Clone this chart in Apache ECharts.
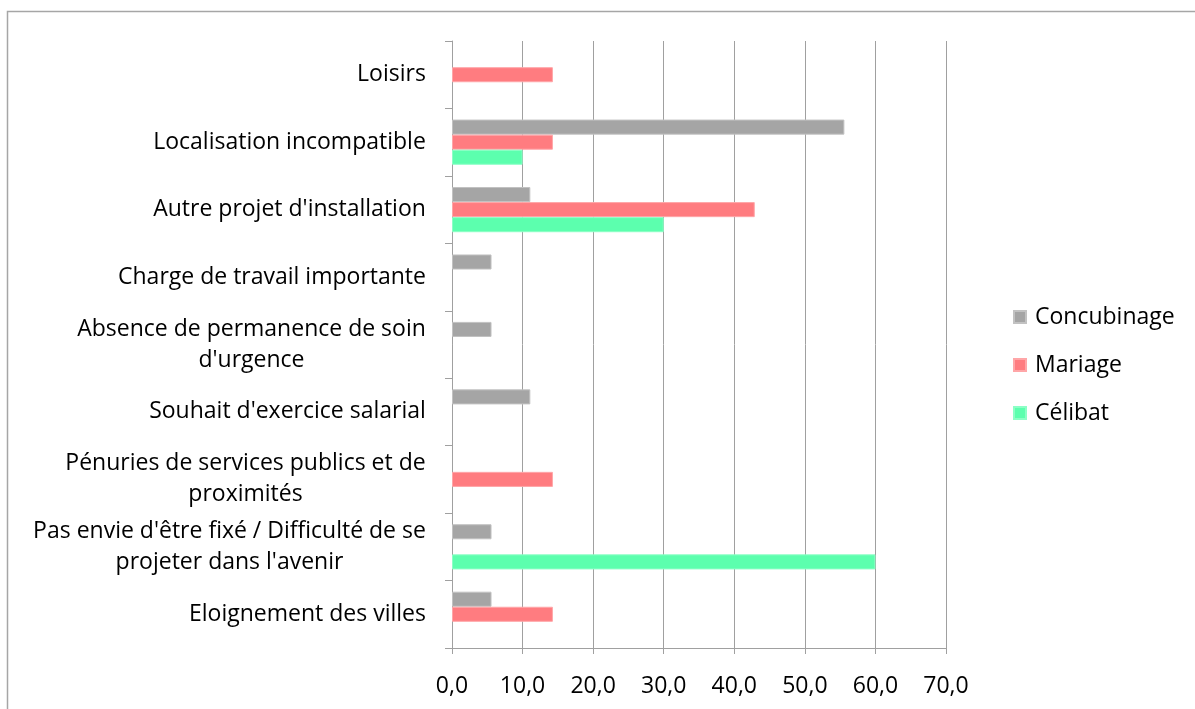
<!DOCTYPE html>
<html>
<head>
<meta charset="utf-8">
<script src="https://cdn.jsdelivr.net/npm/echarts@6/dist/echarts.min.js"></script>
<style>
html,body{margin:0;padding:0;background:#fff;}
#chart{width:1195px;height:709px;}
</style>
</head>
<body>
<div id="chart"></div>
<script>
// Categories listed bottom to top
const categories = [
  "Eloignement des villes",
  "Pas envie d'être fixé / Difficulté de se\nprojeter dans l'avenir",
  "Pénuries de services publics et de\nproximités",
  "Souhait d'exercice salarial",
  "Absence de permanence de soin\nd'urgence",
  "Charge de travail importante",
  "Autre projet d'installation",
  "Localisation incompatible",
  "Loisirs"
];
const concubinage = [5.6, 5.6, null, 11.1, 5.6, 5.6, 11.1, 55.6, null];
const mariage     = [14.3, null, 14.3, null, null, null, 42.9, 14.3, 14.3];
const celibat     = [null, 60.0, null, null, null, null, 30.0, 10.0, null];
const xTicks = [0, 10, 20, 30, 40, 50, 60, 70];

const font = '"Open Sans", sans-serif';
const fs = 23;

// per-label rich styles so wrapped lines are centred on each other
const ctx = document.createElement('canvas').getContext('2d');
ctx.font = fs + 'px "Open Sans"';
const rich = {};
categories.forEach((c, i) => {
  const w = Math.max(...c.split('\n').map(l => ctx.measureText(l).width));
  rich['r' + i] = { width: Math.ceil(w), align: 'center', fontSize: fs, lineHeight: 31, color: '#000', fontFamily: font };
});

const chart = echarts.init(document.getElementById('chart'));
const barStyle = (c, b) => ({ color: c, borderColor: b, borderWidth: 1 });

chart.setOption({
  animation: false,
  textStyle: { fontFamily: font },
  graphic: [
    { type: 'polyline', shape: { points: [[7.5, 709], [7.5, 11.5], [1195, 11.5]] },
      style: { stroke: '#A6A6A6', lineWidth: 1.5, fill: null } }
  ],
  grid: { left: 452, right: 249, top: 41, bottom: 61, containLabel: false },
  legend: {
    orient: 'vertical',
    left: 1013,
    top: 305,
    padding: 0,
    itemWidth: 12,
    itemHeight: 12,
    itemGap: 24,
    icon: 'rect',
    data: ['Concubinage', 'Mariage', 'Célibat'],
    textStyle: { fontSize: fs, lineHeight: 24, color: '#000', fontFamily: font, padding: [0, 0, 0, 4] }
  },
  xAxis: {
    type: 'value',
    min: xTicks[0],
    max: xTicks[xTicks.length - 1],
    interval: 10,
    axisLine: { show: true, lineStyle: { color: '#A0A0A0', width: 1 } },
    axisTick: { show: true, length: 6, lineStyle: { color: '#A0A0A0' } },
    splitLine: { show: true, lineStyle: { color: '#A0A0A0', width: 1 } },
    axisLabel: {
      margin: 27,
      fontSize: fs,
      color: '#000',
      fontFamily: font,
      formatter: v => v.toFixed(1).replace('.', ',')
    }
  },
  yAxis: {
    type: 'category',
    data: categories,
    axisLine: { show: true, lineStyle: { color: '#A0A0A0', width: 1 } },
    axisTick: { show: true, length: 7, lineStyle: { color: '#A0A0A0' } },
    axisLabel: {
      margin: 26,
      fontSize: fs,
      color: '#000',
      fontFamily: font,
      lineHeight: 31,
      formatter: (v, i) => v.split('\n').map(l => '{r' + i + '|' + l + '}').join('\n'),
      rich: rich
    }
  },
  series: [
    { name: 'Concubinage', type: 'bar', data: concubinage, barGap: '0%', barCategoryGap: '33%',
      itemStyle: barStyle('#A5A5A5', '#C2C2C2') },
    { name: 'Mariage', type: 'bar', data: mariage, barGap: '0%', barCategoryGap: '33%',
      itemStyle: barStyle('#FF7C80', '#FFA6A8') },
    { name: 'Célibat', type: 'bar', data: celibat, barGap: '0%', barCategoryGap: '33%',
      itemStyle: barStyle('#5CFFAE', '#8CFFC6') }
  ]
});
</script>
</body>
</html>
